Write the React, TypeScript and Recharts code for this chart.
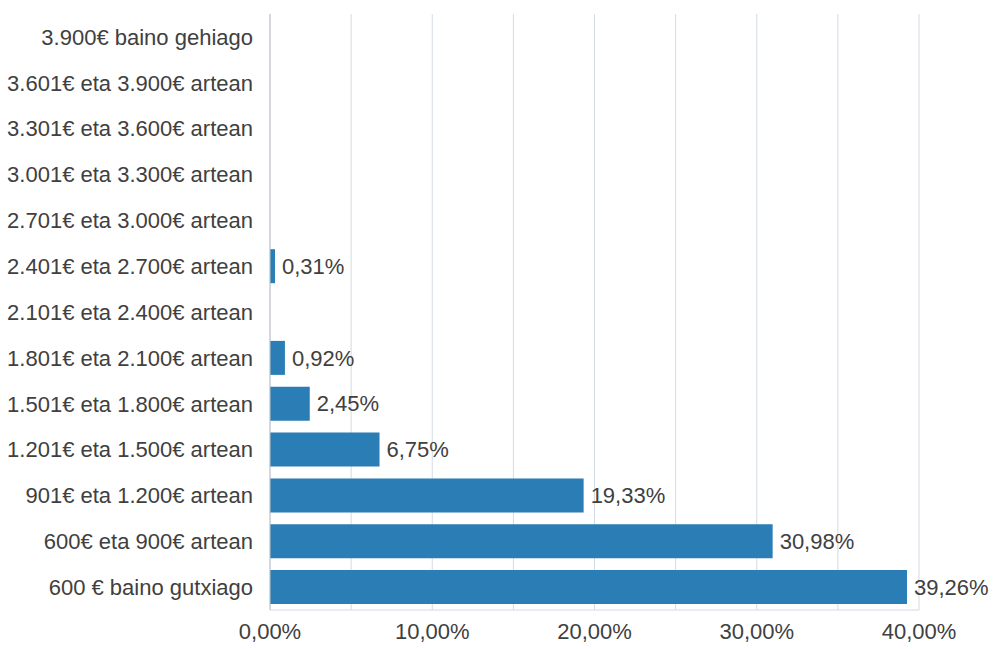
import React from "react";
import { BarChart, Bar, XAxis, YAxis, CartesianGrid, LabelList } from "recharts";

const CATEGORIES = [
  "3.900€ baino gehiago",
  "3.601€ eta 3.900€ artean",
  "3.301€ eta 3.600€ artean",
  "3.001€ eta 3.300€ artean",
  "2.701€ eta 3.000€ artean",
  "2.401€ eta 2.700€ artean",
  "2.101€ eta 2.400€ artean",
  "1.801€ eta 2.100€ artean",
  "1.501€ eta 1.800€ artean",
  "1.201€ eta 1.500€ artean",
  "901€ eta 1.200€ artean",
  "600€ eta 900€ artean",
  "600 € baino gutxiago",
];
const VALUES = [0, 0, 0, 0, 0, 0.31, 0, 0.92, 2.45, 6.75, 19.33, 30.98, 39.26];
const X_TICKS = [0, 5, 10, 15, 20, 25, 30, 35, 40];

const data = CATEGORIES.map((name, i) => ({ name, value: VALUES[i] }));

const fmt = (v: number) => v.toFixed(2).replace(".", ",") + "%";
const FONT = "'Liberation Sans', Arial, sans-serif";
const TEXT = "#404040";
const SIZE = 22;

const renderLabel = (props: any) => {
  const { x, y, width, height, value } = props;
  if (!value) return null;
  return (
    <text
      x={x + width + 7}
      y={y + height / 2}
      dy="0.35em"
      fill={TEXT}
      fontSize={SIZE}
      fontFamily={FONT}
    >
      {fmt(value)}
    </text>
  );
};

export default function App() {
  return (
    <div style={{ position: "absolute", left: 0, top: 0, background: "#fff" }}>
      <BarChart
        width={994}
        height={649}
        data={data}
        layout="vertical"
        margin={{ top: 14, right: 75, bottom: 0, left: 0 }}
        barCategoryGap="13%"
      >
        <CartesianGrid horizontal={false} stroke="#d3dbe4" />
        <XAxis
          type="number"
          domain={[0, 40]}
          ticks={X_TICKS}
          tickFormatter={(v: number) => (v % 10 === 0 ? fmt(v) : "")}
          axisLine={{ stroke: "#d3dbe4" }}
          tickLine={false}
          tick={{ fill: TEXT, fontSize: SIZE, fontFamily: FONT }}
          tickMargin={7}
          height={39}
        />
        <YAxis
          type="category"
          dataKey="name"
          width={270}
          axisLine={{ stroke: "#c0c4c8" }}
          tickLine={false}
          tick={{ fill: TEXT, fontSize: SIZE, fontFamily: FONT }}
          tickMargin={11}
          interval={0}
        />
        <Bar dataKey="value" fill="#2a7db5" isAnimationActive={false}>
          <LabelList dataKey="value" content={renderLabel} />
        </Bar>
      </BarChart>
    </div>
  );
}
